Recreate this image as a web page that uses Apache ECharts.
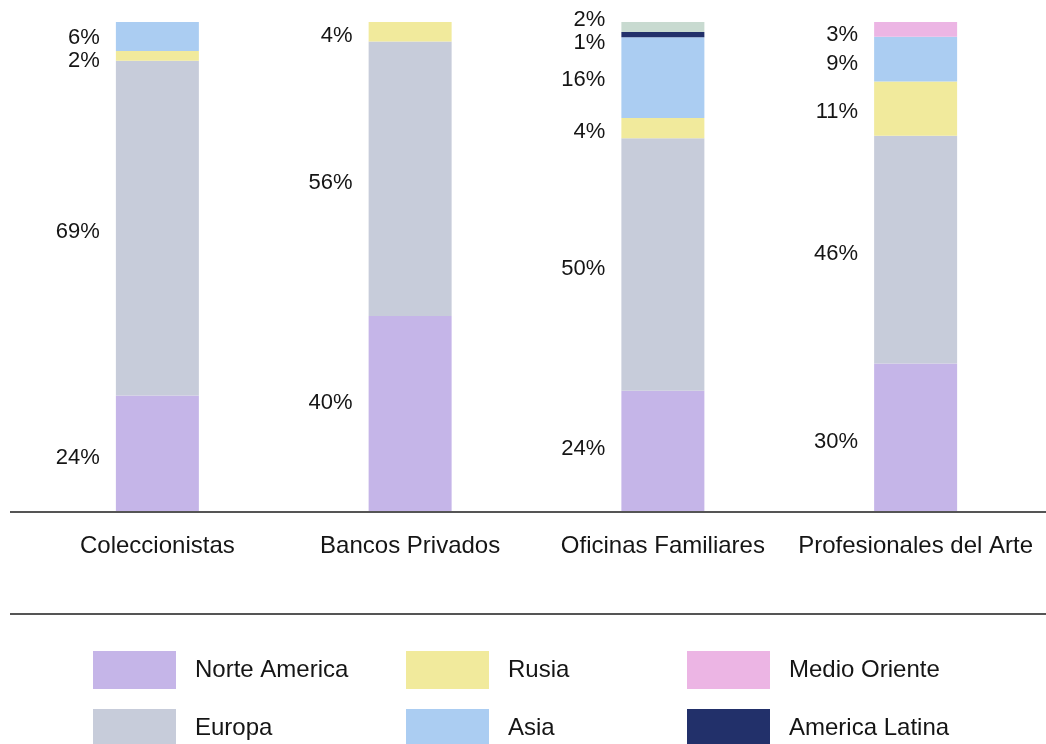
<!DOCTYPE html>
<html>
<head>
<meta charset="utf-8">
<script src="https://cdn.jsdelivr.net/npm/echarts@6/dist/echarts.min.js"></script>
<style>
  html, body { margin: 0; padding: 0; background: #ffffff; }
  #chart { width: 1046px; height: 744px; }
</style>
</head>
<body>
<div id="chart"></div>
<script>
// Investor groups on the x axis
const categories = ['Coleccionistas', 'Bancos Privados', 'Oficinas Familiares', 'Profesionales del Arte'];

// Share of each region per group (%), bottom to top of each stack
const norteAmerica  = [24, 40, 24, 30];
const europa        = [69, 56, 50, 46];
const rusia         = [2, 4, 4, 11];
const asia          = [6, 0, 16, 9];
const americaLatina = [0, 0, 1, 0];
const otros         = [0, 0, 2, 0];
const medioOriente  = [0, 0, 0, 3];

const seriesDefs = [
  { name: 'Norte America',  values: norteAmerica,  color: '#c5b5e8' },
  { name: 'Europa',         values: europa,        color: '#c7ccda' },
  { name: 'Rusia',          values: rusia,         color: '#f1ea9c' },
  { name: 'Asia',           values: asia,          color: '#abcdf2' },
  { name: 'America Latina', values: americaLatina, color: '#22306a' },
  { name: 'Otros',          values: otros,         color: '#c8dad0' },
  { name: 'Medio Oriente',  values: medioOriente,  color: '#ecb5e4' }
];

// Each bar is scaled to fill the full height (its parts sum to 100)
const totals = categories.map((_, i) => seriesDefs.reduce((s, d) => s + d.values[i], 0));

// Vertical label shifts (px) so labels on thin segments don't collide
const baseShift = 4;
const labelNudge = {
  'Norte America': [0, -15, -6, 0],
  'Rusia': [1, 0, 0, -1],
  'Asia': [-3, 0, -2, 1],
  'America Latina': [0, 0, 4, 0],
  'Otros': [0, 0, -11, 0],
  'Medio Oriente': [0, 0, 0, 2]
};

const series = seriesDefs.map(d => ({
  name: d.name,
  type: 'bar',
  stack: 'total',
  barWidth: 83,
  itemStyle: { color: d.color },
  emphasis: { disabled: true },
  data: d.values.map((v, i) => {
    if (!v) return null;
    const dy = baseShift + (labelNudge[d.name] || [0, 0, 0, 0])[i];
    return {
      value: v / totals[i] * 100,
      raw: v,
      label: { offset: [0, dy] }
    };
  }),
  label: {
    show: true,
    position: 'left',
    distance: 16,
    fontFamily: 'Liberation Sans, Arial, sans-serif',
    fontSize: 22,
    color: '#151515',
    formatter: p => p.data.raw + '%'
  }
}));

// Legend laid out in a 3 x 2 block
const legendCells = [
  { name: 'Norte America',  left: 93,  top: 651 },
  { name: 'Rusia',          left: 406, top: 651 },
  { name: 'Medio Oriente',  left: 687, top: 651 },
  { name: 'Europa',         left: 93,  top: 709 },
  { name: 'Asia',           left: 406, top: 709 },
  { name: 'America Latina', left: 687, top: 709 }
];

const legend = legendCells.map(c => ({
  data: [c.name],
  left: c.left,
  top: c.top,
  padding: 0,
  itemWidth: 83,
  itemHeight: 38,
  icon: 'rect',
  selectedMode: false,
  textStyle: {
    fontFamily: 'Liberation Sans, Arial, sans-serif',
    fontSize: 24,
    color: '#151515',
    padding: [0, 0, 0, 14]
  }
}));

const chart = echarts.init(document.getElementById('chart'), null, { renderer: 'canvas' });
chart.setOption({
  animation: false,
  backgroundColor: '#ffffff',
  grid: { left: 31, right: 4, top: 22, bottom: 232, containLabel: false },
  xAxis: {
    type: 'category',
    data: categories,
    axisLine: { show: false },
    axisTick: { show: false },
    axisLabel: {
      margin: 22,
      fontFamily: 'Liberation Sans, Arial, sans-serif',
      fontSize: 24,
      color: '#151515',
      interval: 0
    }
  },
  yAxis: {
    type: 'value',
    min: 0,
    max: 100,
    show: false,
    splitLine: { show: false }
  },
  legend: legend,
  series: series,
  graphic: [
    { type: 'line', shape: { x1: 10, y1: 512, x2: 1046, y2: 512 }, style: { stroke: '#555555', lineWidth: 2 }, z: 10 },
    { type: 'line', shape: { x1: 10, y1: 614, x2: 1046, y2: 614 }, style: { stroke: '#555555', lineWidth: 2 }, z: 10 }
  ]
});
</script>
</body>
</html>
